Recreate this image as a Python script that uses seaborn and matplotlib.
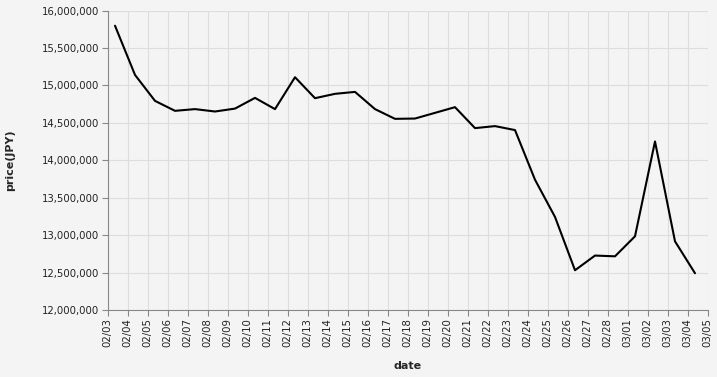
import matplotlib
matplotlib.use("Agg")
import matplotlib.pyplot as plt
import matplotlib.dates as mdates
import matplotlib.ticker as mticker
import seaborn as sns
import pandas as pd

dates = pd.date_range("2025-02-03 09:00", "2025-03-04 09:00", freq="D")
prices = [15797000, 15140000, 14793000, 14660000, 14683000, 14651000, 14690000,
          14833000, 14683000, 15109000, 14829000, 14887000, 14913000, 14683000,
          14553000, 14557000, 14633000, 14709000, 14429000, 14456000, 14403000,
          13740000, 13243000, 12531000, 12727000, 12717000, 12984000, 14251000,
          12917000, 12491000]
df = pd.DataFrame({"date": dates, "price(JPY)": prices})

sns.set_theme(style="whitegrid")
plt.rcParams['font.family'] = ['DejaVu Sans']
bg = "#f4f4f4"
fig = plt.figure(figsize=(7.17, 3.77), dpi=100, facecolor=bg)
ax = fig.add_axes([107.5/717, 1 - 310/377, 600/717, 299.5/377])
ax.set_facecolor(bg)

sns.lineplot(data=df, x="date", y="price(JPY)", ax=ax, color="black", linewidth=1.5)

ax.set_xlim(pd.Timestamp("2025-02-03"), pd.Timestamp("2025-03-05"))
ax.set_ylim(12000000, 16000000)
ax.xaxis.set_major_locator(mdates.DayLocator())
ax.xaxis.set_major_formatter(mdates.DateFormatter("%m/%d"))
ax.yaxis.set_major_locator(mticker.MultipleLocator(500000))
ax.yaxis.set_major_formatter(mticker.FuncFormatter(lambda v, p: f"{int(v):,}"))

ax.grid(True, color="#dddddd", linewidth=0.8)
for s in ["top", "right"]:
    ax.spines[s].set_visible(False)
for s in ["left", "bottom"]:
    ax.spines[s].set_color("#888888")
    ax.spines[s].set_linewidth(0.8)
ax.tick_params(axis="both", which="major", length=4, width=0.8, color="#888888",
               labelsize=7.3, labelcolor="#222222", pad=2, left=True, bottom=True)
ax.tick_params(axis="x", labelrotation=90)

ax.set_xlabel("date", fontsize=8, fontweight="bold", labelpad=10)
ax.set_ylabel("price(JPY)", fontsize=8, fontweight="bold", labelpad=19)

fig.savefig("out.png", dpi=100, facecolor=bg)
